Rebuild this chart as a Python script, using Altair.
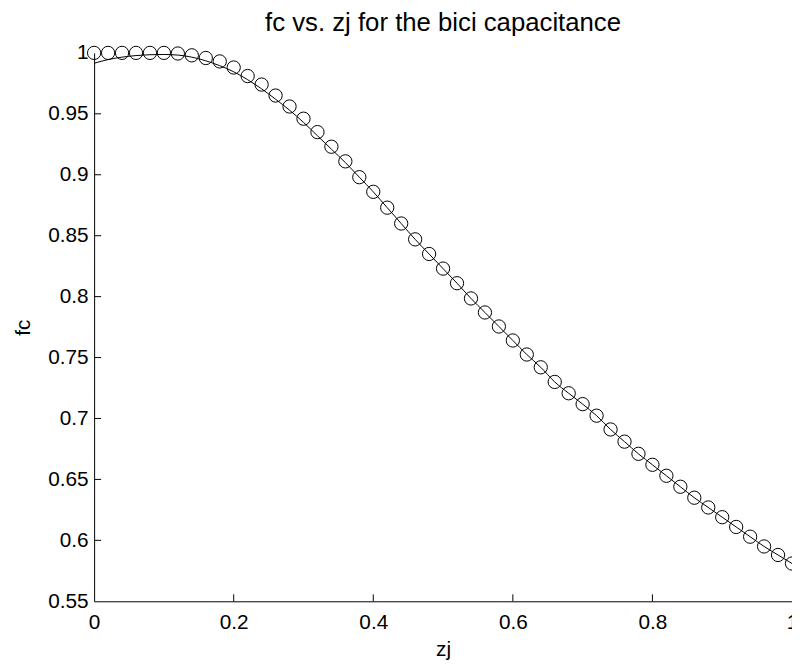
import altair as alt
import pandas as pd

zj = [0.00, 0.02, 0.04, 0.06, 0.08, 0.10, 0.12, 0.14, 0.16, 0.18,
      0.20, 0.22, 0.24, 0.26, 0.28, 0.30, 0.32, 0.34, 0.36, 0.38,
      0.40, 0.42, 0.44, 0.46, 0.48, 0.50, 0.52, 0.54, 0.56, 0.58,
      0.60, 0.62, 0.64, 0.66, 0.68, 0.70, 0.72, 0.74, 0.76, 0.78,
      0.80, 0.82, 0.84, 0.86, 0.88, 0.90, 0.92, 0.94, 0.96, 0.98, 1.00]

fc_points = [1.000, 1.000, 1.000, 1.000, 1.000, 1.000, 0.9995, 0.998, 0.9958, 0.993,
             0.988, 0.981, 0.974, 0.965, 0.956, 0.946, 0.935, 0.923, 0.911, 0.898,
             0.886, 0.873, 0.860, 0.847, 0.835, 0.823, 0.811, 0.7985, 0.787, 0.7755,
             0.764, 0.7525, 0.742, 0.730, 0.7207, 0.7118, 0.7023, 0.691, 0.681, 0.671,
             0.662, 0.653, 0.644, 0.635, 0.627, 0.619, 0.611, 0.603, 0.595, 0.588, 0.581]

fc_line = [0.9915, 0.9945, 0.9965, 0.9978, 0.9985, 0.9987, 0.9982, 0.9965, 0.9935, 0.9895,
           0.9845, 0.978, 0.9705, 0.962, 0.953, 0.943, 0.932, 0.921, 0.910, 0.898,
           0.886, 0.873, 0.860, 0.847, 0.835, 0.823, 0.811, 0.7985, 0.787, 0.7755,
           0.764, 0.7525, 0.742, 0.730, 0.7207, 0.7118, 0.7023, 0.691, 0.681, 0.671,
           0.662, 0.653, 0.644, 0.635, 0.627, 0.619, 0.611, 0.603, 0.595, 0.588, 0.581]

x_ticks = [0, 0.2, 0.4, 0.6, 0.8, 1.0]
y_ticks = [0.55, 0.6, 0.65, 0.7, 0.75, 0.8, 0.85, 0.9, 0.95, 1.0]

df = pd.DataFrame({"zj": zj, "fc_pts": fc_points, "fc_line": fc_line})
xt = pd.DataFrame({"t": [0.2, 0.4, 0.6, 0.8]})
yt = pd.DataFrame({"t": [0.6, 0.65, 0.7, 0.75, 0.8, 0.85, 0.9, 0.95]})

FONT = "Liberation Sans"
W, H = 705, 554
FS = 21

xscale = alt.Scale(domain=[0, 1], nice=False, zero=False)
yscale = alt.Scale(domain=[0.55, 1.0], nice=False, zero=False)

xaxis = alt.Axis(values=x_ticks, title="zj",
                 labelExpr="datum.value == 1 ? '1' : datum.value == 0 ? '0' : format(datum.value, '.1f')",
                 tickSize=0, labelPadding=10, grid=False, domainColor="black",
                 labelFont=FONT, labelFontSize=FS, labelColor="black",
                 titleFont=FONT, titleFontSize=FS, titleFontWeight="normal", titleColor="black",
                 titlePadding=7, labelFlush=False, labelOverlap=False)
yaxis = alt.Axis(values=y_ticks, title="fc", labelExpr="format(datum.value, '.2~f')",
                 tickSize=0, labelPadding=6, grid=False, domainColor="black",
                 labelFont=FONT, labelFontSize=FS, labelColor="black",
                 titleFont=FONT, titleFontSize=FS, titleFontWeight="normal", titleColor="black",
                 titlePadding=14, labelFlush=False, labelOverlap=False)

line = alt.Chart(df).mark_line(color="black", strokeWidth=1, interpolate="monotone").encode(
    x=alt.X("zj:Q", scale=xscale, axis=xaxis),
    y=alt.Y("fc_line:Q", scale=yscale, axis=yaxis),
)
pts = alt.Chart(df).mark_point(shape="circle", filled=False, color="black", size=180, strokeWidth=1, opacity=1).encode(
    x=alt.X("zj:Q", scale=xscale),
    y=alt.Y("fc_pts:Q", scale=yscale),
)
xtick = alt.Chart(xt).mark_rule(color="black", strokeWidth=1).encode(
    x=alt.X("t:Q", scale=xscale),
    y=alt.value(H), y2=alt.value(H - 7),
)
ytick = alt.Chart(yt).mark_rule(color="black", strokeWidth=1).encode(
    y=alt.Y("t:Q", scale=yscale),
    x=alt.value(0), x2=alt.value(7),
)

chart = alt.layer(line, pts, xtick, ytick).properties(
    width=W, height=H,
    background="white",
    title=alt.TitleParams("fc vs. zj for the bici capacitance", font=FONT, fontSize=26,
                          fontWeight="normal", color="black", anchor="middle", offset=6),
    autosize=alt.AutoSizeParams(type="none"),
    padding={"left": 87, "top": 42, "right": 0, "bottom": 60},
).configure_axis(grid=False).configure_view(strokeWidth=0, strokeOpacity=0)

chart.save("out.html", embed_options={"renderer": "svg", "actions": False})
